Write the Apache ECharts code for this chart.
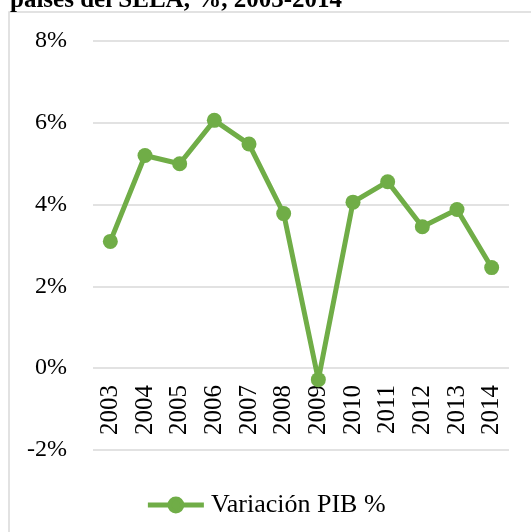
<!DOCTYPE html>
<html>
<head>
<meta charset="utf-8">
<script src="https://cdn.jsdelivr.net/npm/echarts@6/dist/echarts.min.js"></script>
<style>
  html, body { margin: 0; padding: 0; background: #fff; }
  #chart { width: 531px; height: 532px; }
</style>
</head>
<body>
<div id="chart"></div>
<script>
// datos
const years = ['2003', '2004', '2005', '2006', '2007', '2008', '2009', '2010', '2011', '2012', '2013', '2014'];
const pibVar = [3.1, 5.2, 5.0, 6.06, 5.48, 3.78, -0.28, 4.06, 4.56, 3.46, 3.88, 2.46];
const titleText = 'países del SELA, %, 2003-2014';
const seriesName = 'Variación PIB %';

const font = '"Liberation Serif", "Times New Roman", serif';
const green = '#70ad47';
const gridGray = '#d9d9d9';

const chart = echarts.init(document.getElementById('chart'));
chart.setOption({
    animation: false,
    title: {
        text: titleText,
        left: 5,
        top: -17,
        textStyle: { fontFamily: font, fontWeight: 'bold', fontSize: 25, color: '#000' }
    },
    graphic: [{
        type: 'rect',
        shape: { x: 9, y: 12, width: 600, height: 600 },
        style: { fill: 'none', stroke: gridGray, lineWidth: 1.5 },
        z: -1
    }],
    legend: {
        top: 487,
        left: 'center',
        itemWidth: 56,
        itemHeight: 16,
        itemGap: 4,
        symbolSize: 15,
        lineStyle: { width: 5 },
        itemStyle: { borderColor: green, borderWidth: 4 },
        textStyle: { fontFamily: font, fontSize: 26, color: '#000', padding: [0, 0, 0, 2] },
        data: [seriesName]
    },
    grid: { left: 93, right: 22, top: 41, bottom: 82, containLabel: false },
    xAxis: {
        type: 'category',
        data: years,
        boundaryGap: true,
        position: 'bottom',
        offset: -82, // etiquetas en la linea del 0%
        axisLine: { show: false, onZero: false },
        axisTick: { show: false },
        axisLabel: { rotate: 90, margin: 17, fontFamily: font, fontSize: 25, color: '#000' }
    },
    yAxis: {
        type: 'value',
        min: -2,
        max: 8,
        interval: 2,
        axisLine: { show: false },
        axisTick: { show: false },
        axisLabel: { formatter: '{value}%', margin: 26, fontFamily: font, fontSize: 24, color: '#000' },
        splitLine: { lineStyle: { color: gridGray, width: 1.5 } }
    },
    series: [{
        name: seriesName,
        type: 'line',
        data: pibVar,
        symbol: 'circle',
        symbolSize: 15,
        lineStyle: { color: green, width: 5 },
        itemStyle: { color: green }
    }]
});
</script>
</body>
</html>
